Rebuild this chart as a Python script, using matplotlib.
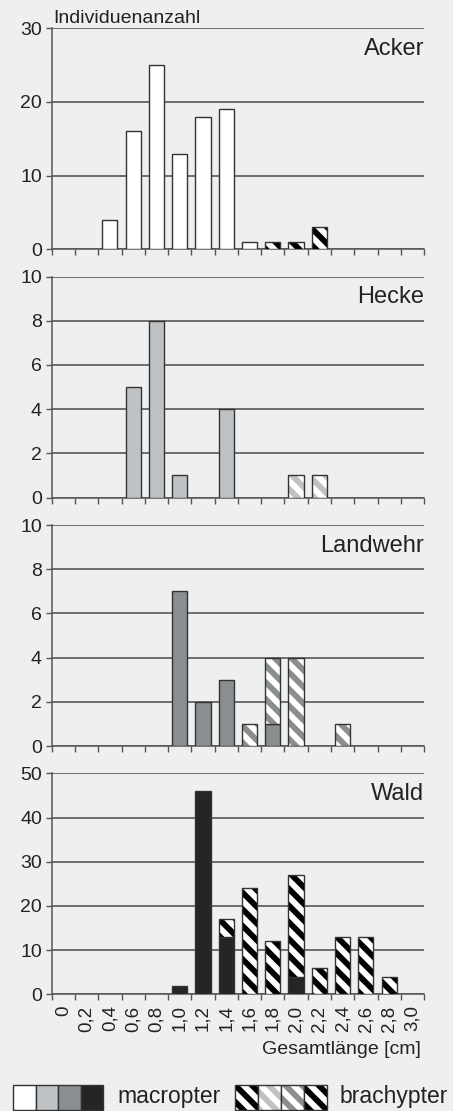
import numpy as np
import matplotlib.pyplot as plt
from matplotlib.patches import Rectangle

plt.rcParams['font.family'] = ['Liberation Sans', 'DejaVu Sans']
plt.rcParams['hatch.linewidth'] = 4.2

bg = '#eeefef'
edge = '#333333'
gridcol = '#4a4a4a'
hatch = '\\\\'

# size classes (Gesamtlänge in cm)
classes = ['0', '0,2', '0,4', '0,6', '0,8', '1,0', '1,2', '1,4',
           '1,6', '1,8', '2,0', '2,2', '2,4', '2,6', '2,8', '3,0']

sites = ['Acker', 'Hecke', 'Landwehr', 'Wald']

acker_macro = [0, 0, 4, 16, 25, 13, 18, 19, 1, 0, 0, 0, 0, 0, 0, 0]
acker_brachy = [0, 0, 0, 0, 0, 0, 0, 0, 0, 1, 1, 3, 0, 0, 0, 0]
hecke_macro = [0, 0, 0, 5, 8, 1, 0, 4, 0, 0, 0, 0, 0, 0, 0, 0]
hecke_brachy = [0, 0, 0, 0, 0, 0, 0, 0, 0, 0, 1, 1, 0, 0, 0, 0]
landwehr_macro = [0, 0, 0, 0, 0, 7, 2, 3, 0, 1, 0, 0, 0, 0, 0, 0]
landwehr_brachy = [0, 0, 0, 0, 0, 0, 0, 0, 1, 3, 4, 0, 1, 0, 0, 0]
wald_macro = [0, 0, 0, 0, 0, 2, 46, 13, 0, 0, 4, 0, 0, 0, 0, 0]
wald_brachy = [0, 0, 0, 0, 0, 0, 0, 4, 24, 12, 23, 6, 13, 13, 4, 0]

macro = [acker_macro, hecke_macro, landwehr_macro, wald_macro]
brachy = [acker_brachy, hecke_brachy, landwehr_brachy, wald_brachy]
ymax = [30, 10, 10, 50]
ystep = [10, 2, 2, 10]

fill_cols = ['white', '#bfc2c5', '#8b8e91', '#232527']
hatch_cols = ['black', '#bfc2c5', '#8b8e91', 'black']

fig = plt.figure(figsize=(4.53, 11.11), dpi=100, facecolor=bg)

bottoms = [0.7756, 0.5522, 0.3285, 0.1050]
x = np.arange(len(classes))
w = 0.65

for i, site in enumerate(sites):
    ax = fig.add_axes([0.1141, bottoms[i], 0.822, 0.1989])
    ax.set_facecolor(bg)
    m = np.array(macro[i])
    b = np.array(brachy[i])
    mk = m > 0
    ax.bar(x[mk], m[mk], width=w, color=fill_cols[i], edgecolor=edge, linewidth=1, zorder=3)
    bk = b > 0
    ax.bar(x[bk], b[bk], bottom=m[bk], width=w, color='white', edgecolor=hatch_cols[i],
           hatch=hatch, linewidth=0, zorder=3)
    ax.bar(x[bk], b[bk], bottom=m[bk], width=w, fill=False, edgecolor=edge, linewidth=1, zorder=4)

    ax.set_xlim(-0.5, 15.5)
    ax.set_ylim(0, ymax[i])
    ax.set_yticks(np.arange(0, ymax[i] + 1, ystep[i]))
    ax.yaxis.grid(True, color=gridcol, linewidth=1.1)
    ax.set_axisbelow(True)
    for s in ['top', 'right']:
        ax.spines[s].set_visible(False)
    for s in ['left', 'bottom']:
        ax.spines[s].set_color('#555555')
        ax.spines[s].set_linewidth(1.1)
    ax.set_xticks(np.arange(-0.5, 16, 1))
    ax.set_xticklabels([])
    ax.tick_params(axis='both', which='major', length=4, width=1, color='#555555',
                   labelsize=14, pad=3, labelcolor='#222222')
    if i == 3:
        ax.set_xticks(x, classes, minor=True, rotation=90)
        ax.tick_params(axis='x', which='minor', length=0, labelsize=13.5, pad=8,
                       labelcolor='#222222')
    ax.text(1.0, 0.878, site, transform=ax.transAxes, ha='right', va='baseline',
            fontsize=17, color='#222222')

fig.text(0.117, 0.979, 'Individuenanzahl', ha='left', va='baseline', fontsize=14, color='#222222')
fig.text(0.93, 1 - 1050 / 1111, 'Gesamtlänge [cm]', ha='right', va='center', fontsize=14,
         color='#222222')

# legend strip
lax = fig.add_axes([0, 0, 1, 0.04])
lax.set_xlim(0, 453)
lax.set_ylim(0, 44.44)
lax.axis('off')
for k in range(4):
    lax.add_patch(Rectangle((13 + 22.6 * k, 1), 22.6, 25, facecolor=fill_cols[k],
                            edgecolor=edge, linewidth=1))
    lax.add_patch(Rectangle((235 + 23 * k, 1), 23, 25, facecolor='white',
                            edgecolor=hatch_cols[k], hatch=hatch, linewidth=0))
    lax.add_patch(Rectangle((235 + 23 * k, 1), 23, 25, fill=False, edgecolor=edge, linewidth=1))
lax.text(117, 14, 'macropter', ha='left', va='center', fontsize=16.5, color='#222222')
lax.text(340, 14, 'brachypter', ha='left', va='center', fontsize=16.5, color='#222222')

fig.savefig('out.png', dpi=100, facecolor=bg)
